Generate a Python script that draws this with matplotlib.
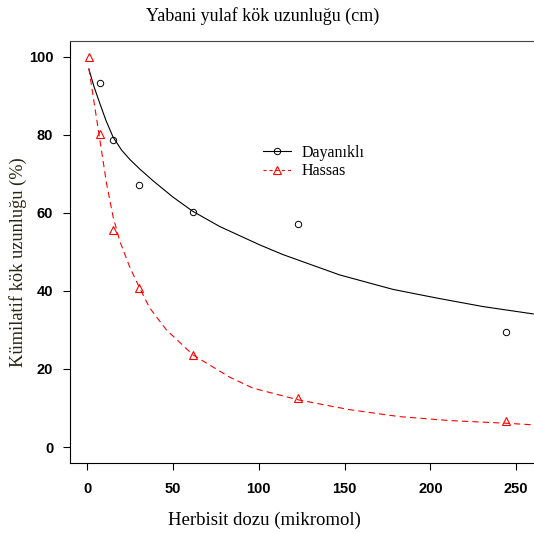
import matplotlib
matplotlib.use('Agg')
import matplotlib.pyplot as plt

# Donnees
doses = [1, 7.6, 15.2, 30.5, 61.5, 123, 244.3]
dayanikli = [None, 93.2, 78.7, 67.0, 60.1, 57.1, 29.4]
hassas = [100, 80.2, 55.6, 40.8, 23.5, 12.6, 6.8]

# Courbes ajustees (lues point par point)
fit_x_d = [1, 4, 7.4, 11, 15.1, 20, 25, 30.7, 38.4, 50.1, 61.5, 77.2, 100.5, 114.1, 147.1, 178.1, 203.4, 230.5, 260]
fit_y_d = [96.8, 92.3, 88.0, 83.6, 79.4, 76.1, 73.6, 71.2, 68.2, 64.0, 60.4, 56.5, 51.8, 49.3, 44.1, 40.4, 38.2, 36.0, 34.1]
fit_x_h = [1, 3.5, 7.4, 11.3, 15.1, 19, 24.9, 30.5, 36.5, 46.2, 61.7, 83.1, 96.6, 123, 152.7, 182, 211, 244.3, 260]
fit_y_h = [97, 89.8, 78.7, 67.5, 59.0, 52.8, 46.0, 40.8, 35.6, 30.0, 23.6, 17.9, 15.1, 12.1, 9.6, 7.8, 6.8, 6.1, 5.7]

xticks = [0, 50, 100, 150, 200, 250]
yticks = [0, 20, 40, 60, 80, 100]

serif = 'Liberation Serif'
sans = 'Liberation Sans'
plt.rcParams['lines.scale_dashes'] = False

W, H = 534, 533
fig = plt.figure(figsize=(W / 100, H / 100), dpi=100)
ax = fig.add_axes([70 / W, 1 - 462.7 / H, 465 / W, (462.7 - 41) / H])

# points
xd = [x for x, y in zip(doses, dayanikli) if y is not None]
yd = [y for y in dayanikli if y is not None]
ax.plot(xd, yd, linestyle='none', marker='o', markersize=4.6, markerfacecolor='none',
        markeredgecolor='black', markeredgewidth=0.7)
ax.plot(doses, hassas, linestyle='none', marker='^', markersize=6, markerfacecolor='none',
        markeredgecolor='red', markeredgewidth=0.8)

# courbes
ax.plot(fit_x_d, fit_y_d, color='black', lw=0.8)
ax.plot(fit_x_h, fit_y_h, color='red', lw=0.8, linestyle=(0, (4.5, 3.0)))

ax.set_xlim(-10, 261)
ax.set_ylim(-4, 104)
ax.set_xticks(xticks)
ax.set_yticks(yticks)
ax.tick_params(axis='both', direction='out', length=5, width=0.8)
ax.tick_params(axis='y', pad=7)
ax.tick_params(axis='x', pad=9)
for lab in ax.get_xticklabels() + ax.get_yticklabels():
    lab.set_fontfamily(sans)
    lab.set_fontweight('bold')
    lab.set_fontsize(10.5)
ax.spines['right'].set_visible(False)
for s in ['left', 'bottom', 'top']:
    ax.spines[s].set_linewidth(0.8)
ax.spines['top'].set_color('#444444')

# legende
h1, = ax.plot([], [], color='black', lw=0.8, marker='o', markersize=4.6,
              markerfacecolor='none', markeredgewidth=0.7)
h2, = ax.plot([], [], color='red', lw=0.8, linestyle=(0, (2.2, 2.2)), marker='^',
              markersize=6, markerfacecolor='none', markeredgewidth=0.8)
leg = ax.legend([h1, h2], ['Dayanıklı', 'Hassas'], loc='center left',
                bbox_to_anchor=(263 / W, 1 - 162 / H), bbox_transform=fig.transFigure,
                frameon=False, borderpad=0, borderaxespad=0, handlelength=1.75,
                handletextpad=0.65, labelspacing=0.15, prop={'family': serif, 'size': 11.5})

# titres
fig.text(263 / W, 1 - 16 / H, 'Yabani yulaf kök uzunluğu (cm)', ha='center', va='center',
         family=serif, fontsize=13)
fig.text(264 / W, 1 - 520 / H, 'Herbisit dozu (mikromol)', ha='center', va='center',
         family=serif, fontsize=13.5)
fig.text(18 / W, 1 - 262 / H, 'Kümilatif kök uzunluğu (%)', ha='center', va='center',
         rotation=90, family=serif, fontsize=13.2, color='#2b2410')

fig.savefig('out.png', dpi=100)
